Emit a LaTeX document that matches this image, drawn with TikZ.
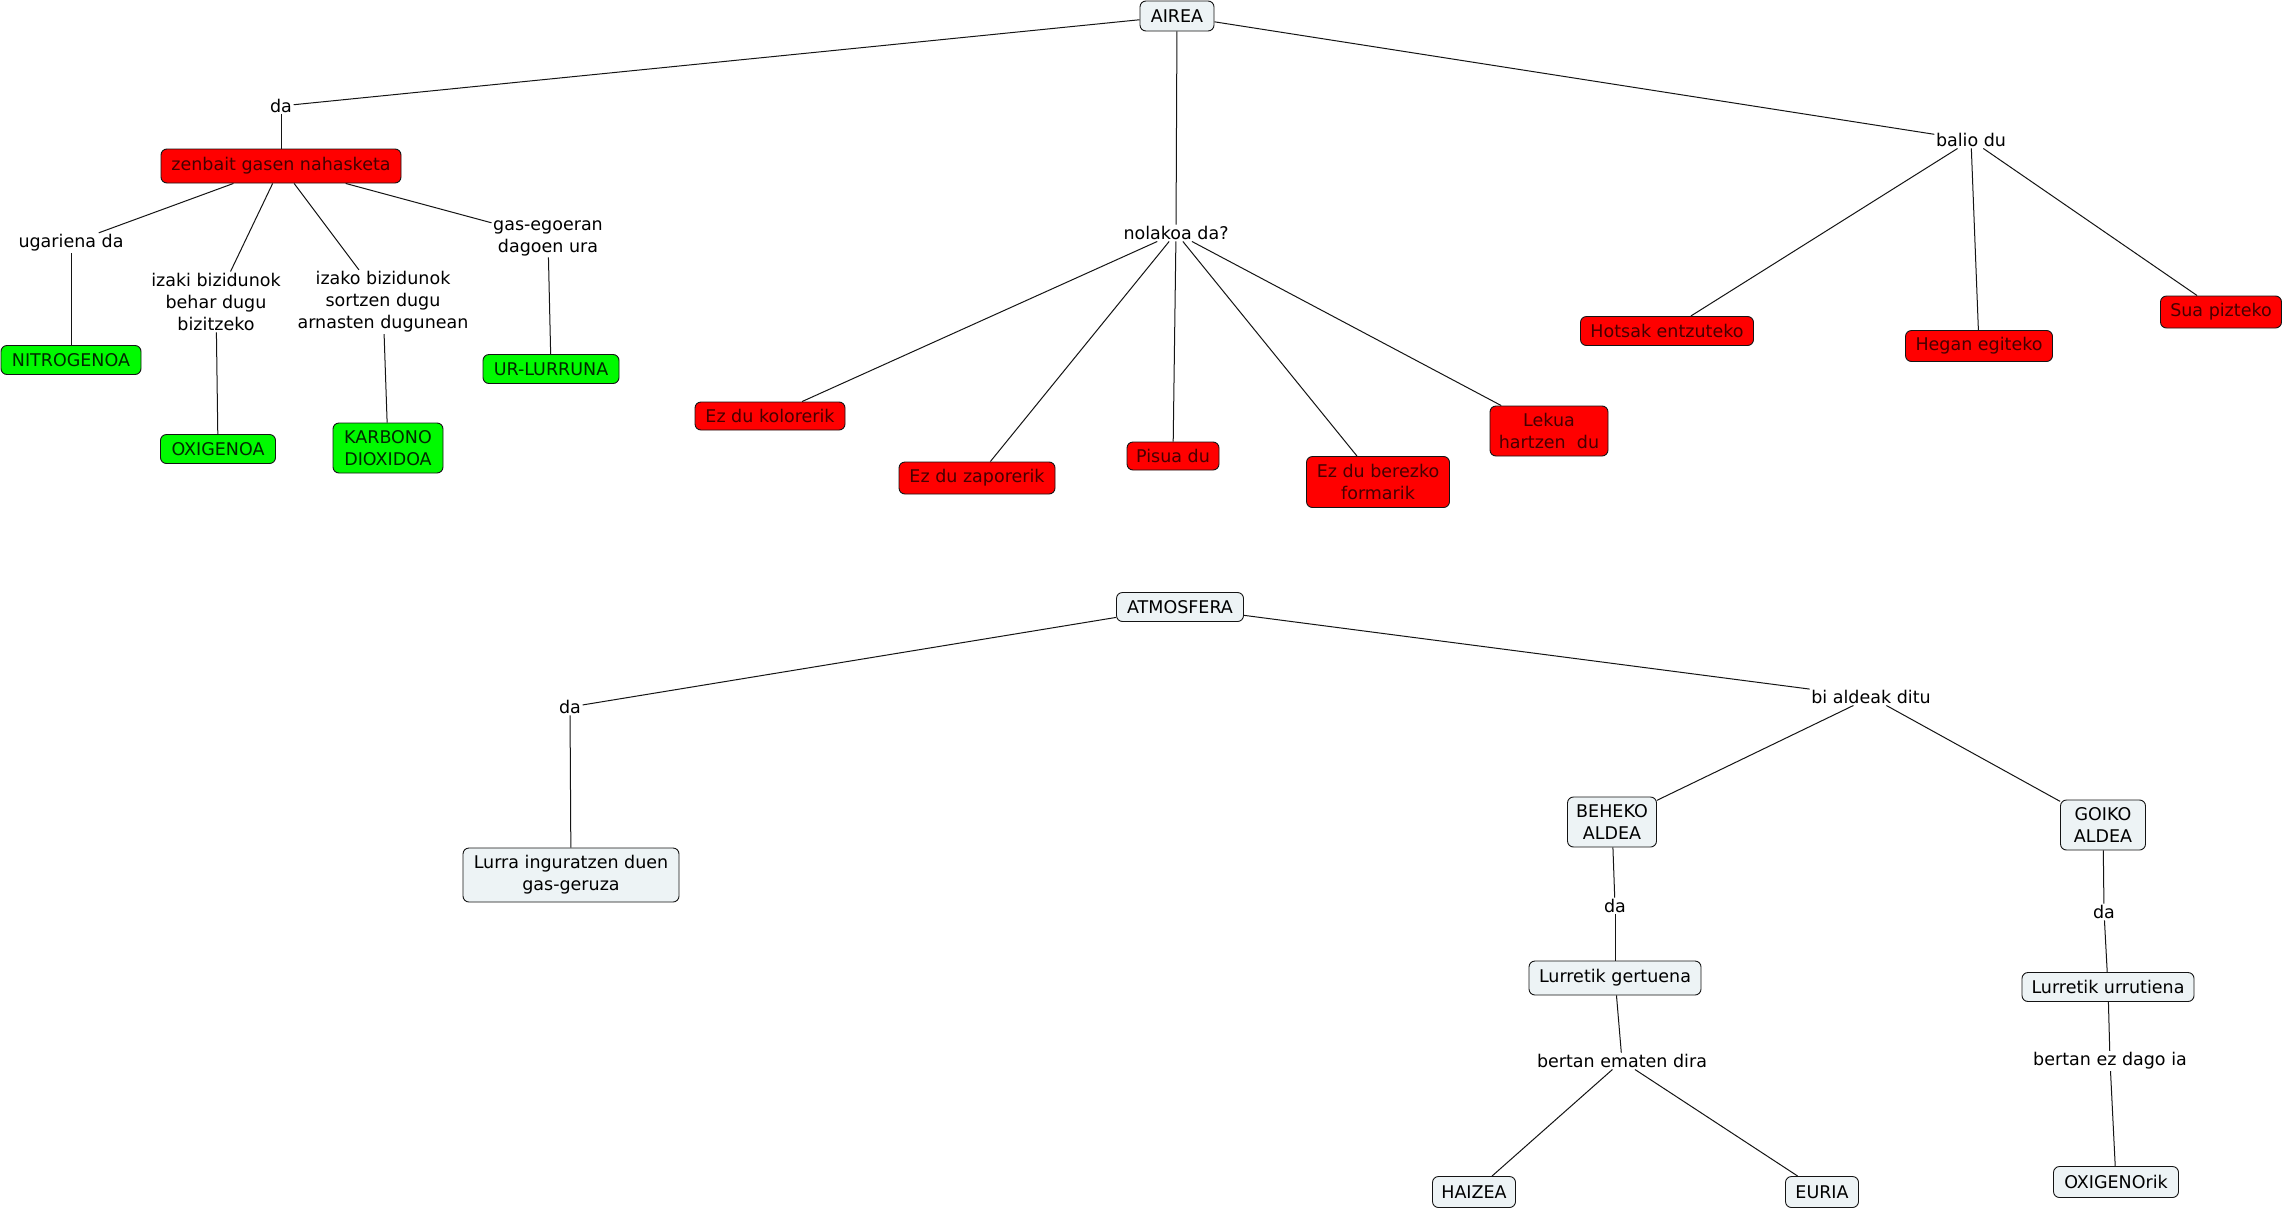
\documentclass[tikz,border=0pt]{standalone}
\usepackage{fontspec}
\setmainfont{DejaVu Sans}
\definecolor{cred}{RGB}{255,0,0}
\definecolor{credtext}{RGB}{70,0,0}
\definecolor{cgreen}{RGB}{0,250,0}
\definecolor{cgreentext}{RGB}{0,40,0}
\definecolor{cplain}{RGB}{237,243,245}
\definecolor{cline}{RGB}{20,20,20}
\newcommand\fs{\fontsize{17.5}{22}\selectfont}
\tikzset{
  cbox/.style={draw=cline, rounded corners=6pt, line width=0.9pt, inner sep=2pt, align=center, font=\fs},
  redbox/.style={cbox, fill=cred, text=credtext},
  greenbox/.style={cbox, fill=cgreen, text=cgreentext},
  plainbox/.style={cbox, fill=cplain, text=black},
  lbl/.style={inner sep=1.5pt, align=center, font=\fs, text=black},
  conn/.style={draw=cline, line width=1pt},
}
\begin{document}
\begin{tikzpicture}[x=1pt, y=-1pt]
\useasboundingbox (0,0) rectangle (2285,1210);
\fill[white] (0,0) rectangle (2285,1210);

% top concept
\node[plainbox, minimum width=74pt, minimum height=30pt] (airea) at (1177,16) {AIREA};

% left branch
\node[lbl] (da1) at (281,106) {da};
\node[redbox, minimum width=240pt, minimum height=34pt] (zen) at (281,166) {zenbait gasen nahasketa};
\node[lbl] (ugar) at (71,243) {ugariena da};
\node[lbl] (izaki) at (216,302) {izaki bizidunok\\behar dugu\\bizitzeko};
\node[lbl] (izako) at (383,302) {izako bizidunok\\sortzen dugu\\arnasten dugunean};
\node[lbl] (gas) at (548,238) {gas-egoeran\\dagoen ura};
\node[greenbox, minimum width=140pt, minimum height=29pt] (nitro) at (71,360) {NITROGENOA};
\node[greenbox, minimum width=115pt, minimum height=29pt] (oxi) at (218,449) {OXIGENOA};
\node[greenbox, minimum width=110pt, minimum height=50pt] (karb) at (388,448) {KARBONO\\DIOXIDOA};
\node[greenbox, minimum width=136pt, minimum height=29pt] (ur) at (551,369) {UR-LURRUNA};

% middle branch
\node[lbl] (nol) at (1176,233) {nolakoa da?};
\node[redbox, minimum width=150pt, minimum height=28pt] (kol) at (770,416) {Ez du kolorerik};
\node[redbox, minimum width=156pt, minimum height=32pt] (zap) at (977,478) {Ez du zaporerik};
\node[redbox, minimum width=92pt, minimum height=28pt] (pis) at (1173,456) {Pisua du};
\node[redbox, minimum width=143pt, minimum height=51pt] (form) at (1378,482) {Ez du berezko\\formarik};
\node[redbox, minimum width=118pt, minimum height=50pt] (lek) at (1549,431) {Lekua\\hartzen\ \ du};

% right branch
\node[lbl] (bal) at (1971,140) {balio du};
\node[redbox, minimum width=173pt, minimum height=29pt] (hots) at (1667,331) {Hotsak entzuteko};
\node[redbox, minimum width=147pt, minimum height=31pt] (heg) at (1979,346) {Hegan egiteko};
\node[redbox, minimum width=121pt, minimum height=32pt] (sua) at (2221,312) {Sua pizteko};

% atmosfera
\node[plainbox, minimum width=127pt, minimum height=29pt] (atm) at (1180,607) {ATMOSFERA};
\node[lbl] (da2) at (570,707) {da};
\node[plainbox, minimum width=216pt, minimum height=54pt] (lurra) at (571,875) {Lurra inguratzen duen\\gas-geruza};
\node[lbl] (bi) at (1871,697) {bi aldeak ditu};
\node[plainbox, minimum width=89pt, minimum height=50pt] (beh) at (1612,822) {BEHEKO\\ALDEA};
\node[plainbox, minimum width=85pt, minimum height=50pt] (goi) at (2103,825) {GOIKO\\ALDEA};
\node[lbl] (da3) at (1615,906) {da};
\node[lbl] (da4) at (2104,912) {da};
\node[plainbox, minimum width=172pt, minimum height=34pt] (gert) at (1615,978) {Lurretik gertuena};
\node[plainbox, minimum width=172pt, minimum height=29pt] (urru) at (2108,987) {Lurretik urrutiena};
\node[lbl] (emat) at (1622,1061) {bertan ematen dira};
\node[lbl] (ezd) at (2110,1061) {bertan ez dago ia};
\node[plainbox, minimum width=83pt, minimum height=31pt] (haiz) at (1474,1192) {HAIZEA};
\node[plainbox, minimum width=73pt, minimum height=31pt] (eur) at (1822,1192) {EURIA};
\node[plainbox, minimum width=125pt, minimum height=31pt] (oxr) at (2116,1182) {OXIGENOrik};

% connectors
\draw[conn] (airea) -- (da1);
\draw[conn] (da1) -- (zen);
\draw[conn] (zen) -- (ugar);
\draw[conn] (ugar) -- (nitro);
\draw[conn] (zen) -- (izaki);
\draw[conn] (izaki) -- (oxi);
\draw[conn] (zen) -- (izako);
\draw[conn] (izako) -- (karb);
\draw[conn] (zen) -- (gas);
\draw[conn] (gas) -- (ur);

\draw[conn] (airea) -- (nol);
\draw[conn] (nol) -- (kol);
\draw[conn] (nol) -- (zap);
\draw[conn] (nol) -- (pis);
\draw[conn] (nol) -- (form);
\draw[conn] (nol) -- (lek);

\draw[conn] (airea) -- (bal);
\draw[conn] (bal) -- (hots);
\draw[conn] (bal) -- (heg);
\draw[conn] (bal) -- (sua);

\draw[conn] (atm) -- (da2);
\draw[conn] (da2) -- (lurra);
\draw[conn] (atm) -- (bi);
\draw[conn] (bi) -- (beh);
\draw[conn] (bi) -- (goi);
\draw[conn] (beh) -- (da3);
\draw[conn] (da3) -- (gert);
\draw[conn] (goi) -- (da4);
\draw[conn] (da4) -- (urru);
\draw[conn] (gert) -- (emat);
\draw[conn] (emat) -- (haiz);
\draw[conn] (emat) -- (eur);
\draw[conn] (urru) -- (ezd);
\draw[conn] (ezd) -- (oxr);
\end{tikzpicture}
\end{document}
